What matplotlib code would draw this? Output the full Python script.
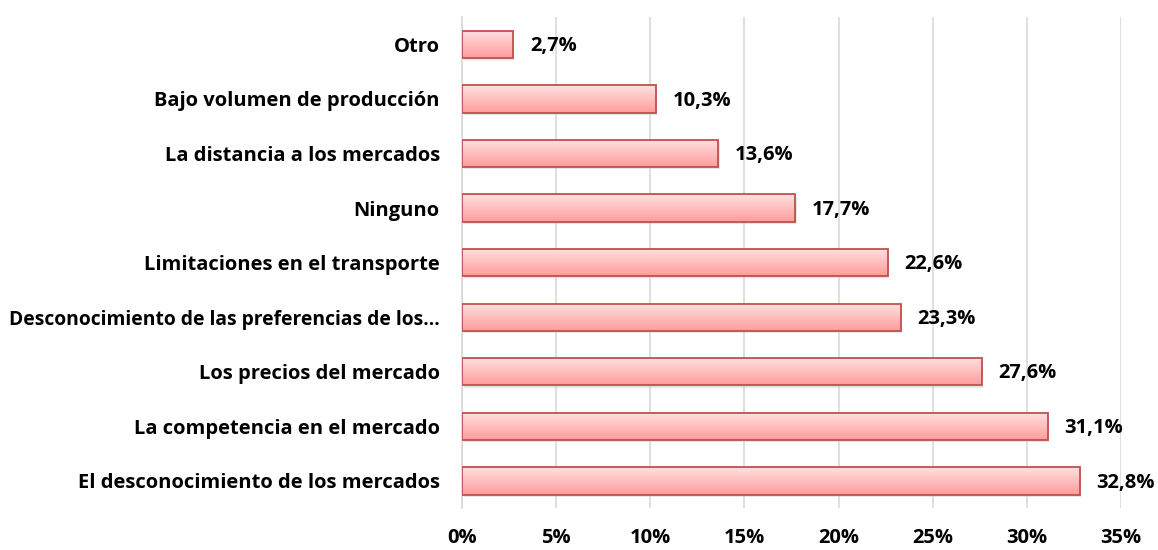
import numpy as np
import matplotlib.pyplot as plt
from matplotlib.ticker import FuncFormatter
from matplotlib.colors import LinearSegmentedColormap

# Obstáculos para acceder a los mercados (porcentaje de respuestas)
categories = [
    "El desconocimiento de los mercados",
    "La competencia en el mercado",
    "Los precios del mercado",
    "Desconocimiento de las preferencias de los\u2026",
    "Limitaciones en el transporte",
    "Ninguno",
    "La distancia a los mercados",
    "Bajo volumen de producción",
    "Otro",
]
values = [32.8, 31.1, 27.6, 23.3, 22.6, 17.7, 13.6, 10.3, 2.7]
value_labels = ["32,8%", "31,1%", "27,6%", "23,3%", "22,6%", "17,7%", "13,6%", "10,3%", "2,7%"]
x_ticks = [0, 5, 10, 15, 20, 25, 30, 35]

plt.rcParams["font.family"] = ["Open Sans", "DejaVu Sans"]
plt.rcParams["font.weight"] = "bold"

fig = plt.figure(figsize=(11.58, 5.5), dpi=100)
ax = fig.add_axes([0.399, 0.076, 0.569, 0.893])

ypos = np.arange(len(categories))
bar_h = 0.5
bars = ax.barh(ypos, values, height=bar_h, color="none", edgecolor="#c0504d",
               linewidth=1.3, zorder=3)

# vertical gradient inside each bar, light on top
grad = np.linspace(0, 1, 64).reshape(-1, 1)
cmap = LinearSegmentedColormap.from_list("pink", ["#ff9c9c", "#ffe0e0"])
for b in bars:
    x0, y0 = b.get_x(), b.get_y()
    w, h = b.get_width(), b.get_height()
    # light shadow
    ax.add_patch(plt.Rectangle((x0 + 0.08, y0 - 0.04), w, h, color="#cccccc",
                               alpha=0.5, zorder=1, linewidth=0))
    im = ax.imshow(grad, extent=[x0, x0 + w, y0, y0 + h], origin="lower",
                   cmap=cmap, aspect="auto", zorder=2)
    im.set_clip_path(b)

for y, v, lab in zip(ypos, values, value_labels):
    ax.text(v + 0.9, y - 0.03, lab, va="center", ha="left", fontsize=14.5,
            fontweight="bold", color="black")

ax.set_xlim(0, 35)
ax.set_ylim(-0.5, len(categories) - 0.5)
ax.set_xticks(x_ticks)
ax.xaxis.set_major_formatter(FuncFormatter(lambda v, p: f"{int(v)}%"))
ax.set_yticks(ypos)
ax.set_yticklabels(categories)
ax.tick_params(axis="x", length=0, labelsize=14.5, pad=14)
ax.tick_params(axis="y", length=0, labelsize=14.5, pad=16)
# the long truncated label has to fit inside the figure
for t in ax.get_yticklabels():
    if t.get_text().endswith("\u2026"):
        t.set_fontsize(13.9)
ax.grid(axis="x", color="#d9d9d9", linewidth=1.2, zorder=0)
ax.set_axisbelow(True)
for side in ["top", "right", "bottom"]:
    ax.spines[side].set_visible(False)
ax.spines["left"].set_color("#d9d9d9")
ax.spines["left"].set_linewidth(1.2)

plt.savefig("out.png", dpi=100)
plt.close()
